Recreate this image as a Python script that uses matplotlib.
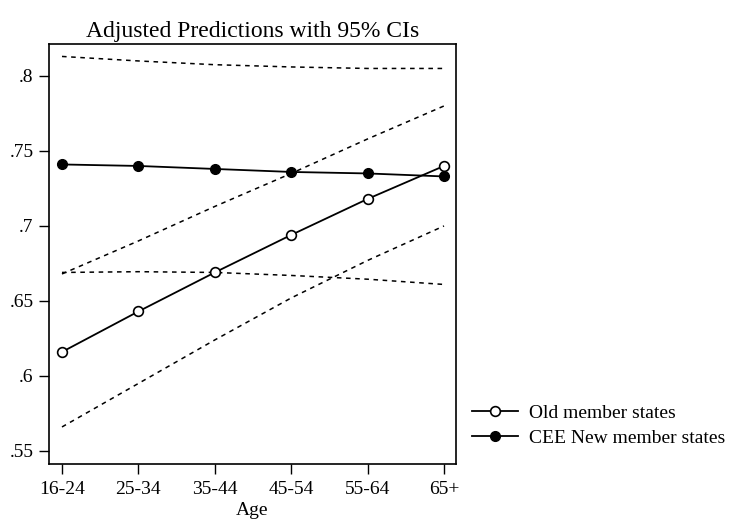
import numpy as np
import matplotlib.pyplot as plt

plt.rcParams['font.family'] = ['Liberation Serif', 'DejaVu Serif']

ages = ["16-24", "25-34", "35-44", "45-54", "55-64", "65+"]

old_est = [0.616, 0.643, 0.669, 0.694, 0.718, 0.740]
old_lo = [0.566, 0.595, 0.624, 0.652, 0.677, 0.700]
old_hi = [0.668, 0.690, 0.713, 0.735, 0.758, 0.780]

cee_est = [0.741, 0.740, 0.738, 0.736, 0.735, 0.733]
cee_lo = [0.669, 0.6695, 0.669, 0.667, 0.6645, 0.661]
cee_hi = [0.813, 0.810, 0.8075, 0.806, 0.805, 0.805]

yticks = [0.55, 0.6, 0.65, 0.7, 0.75, 0.8]
ylabels = [".55", ".6", ".65", ".7", ".75", ".8"]

x = np.arange(len(ages))

fig = plt.figure(figsize=(7.29, 5.25), dpi=100)
ax = fig.add_axes([49 / 729, 1 - 464 / 525, 407 / 729, 420 / 525])

# confidence bands, dashed
for lo, hi in [(old_lo, old_hi), (cee_lo, cee_hi)]:
    ax.plot(x, lo, color="black", lw=1.1, ls=(0, (3, 3)))
    ax.plot(x, hi, color="black", lw=1.1, ls=(0, (3, 3)))

ax.plot(x, old_est, color="black", lw=1.3, marker="o", ms=7,
        mfc="white", mec="black", mew=1.2, label="Old member states")
ax.plot(x, cee_est, color="black", lw=1.3, marker="o", ms=7,
        mfc="black", mec="black", label="CEE New member states")

ax.set_xlim(-0.17, 5.157)
ax.set_ylim(0.5413, 0.8213)
ax.set_xticks(x)
ax.set_xticklabels(ages, fontsize=14)
ax.set_yticks(yticks)
ax.set_yticklabels(ylabels, fontsize=14)
ax.tick_params(axis="x", direction="out", length=7, width=1, pad=5)
ax.tick_params(axis="y", direction="out", length=7, width=1, pad=4)
for s in ax.spines.values():
    s.set_linewidth(1.2)

ax.set_xlabel("Age", fontsize=14, labelpad=3)
ax.set_title("Adjusted Predictions with 95% CIs", fontsize=17, pad=5)

fig.legend(*ax.get_legend_handles_labels(), loc="center left",
           bbox_to_anchor=(472 / 729, 1 - 425.5 / 525), frameon=False,
           fontsize=14, handlelength=2.35, handletextpad=0.6,
           labelspacing=0.35, borderpad=0, borderaxespad=0)

fig.savefig("out.png", dpi=100)
